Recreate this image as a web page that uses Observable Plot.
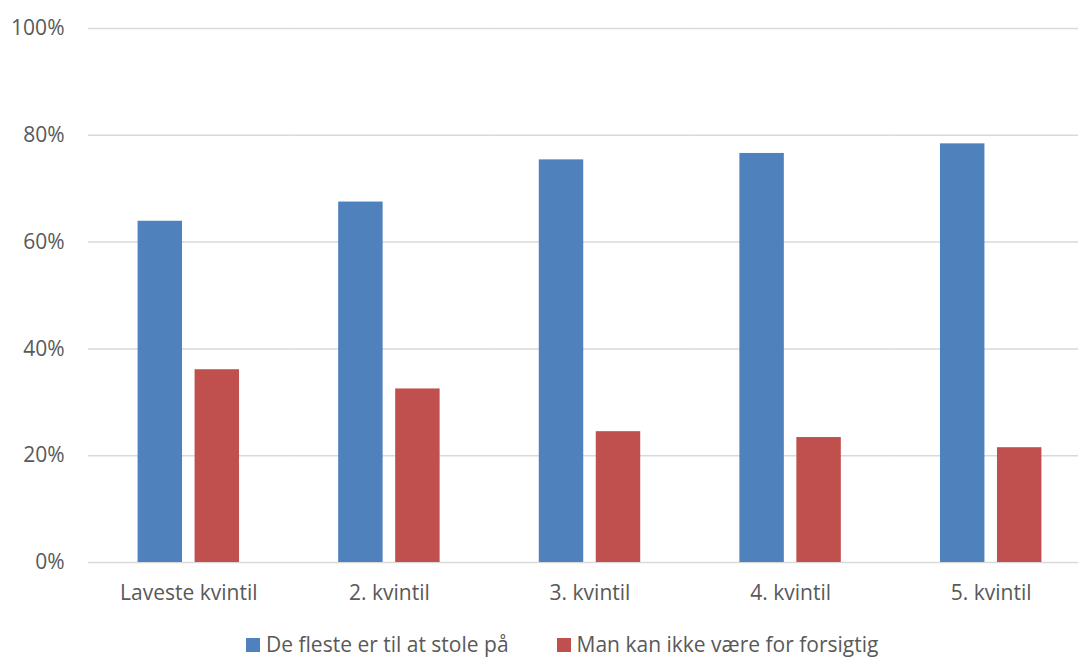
<!DOCTYPE html>
<html>
<head>
<meta charset="utf-8">
<script src="https://cdn.jsdelivr.net/npm/d3@7"></script>
<script src="https://cdn.jsdelivr.net/npm/@observablehq/plot@0.6"></script>
<style>
  html, body { margin: 0; padding: 0; background: #fff; overflow: hidden; }
  #wrap { position: relative; width: 1078px; height: 657px; font-family: "Open Sans", sans-serif; }
  #legend { position: absolute; top: 632px; left: 246px; display: flex; align-items: center; font-size: 21px; color: #595959; white-space: nowrap; line-height: 25px; }
  .item { display: flex; align-items: center; margin-right: 48px; }
  .sw { width: 14px; height: 14px; margin-right: 6px; }
  svg text { font-size: 21px; }
</style>
</head>
<body>
<div id="wrap"><div id="chart"></div><div id="legend"></div></div>
<script>
const categories = ["Laveste kvintil", "2. kvintil", "3. kvintil", "4. kvintil", "5. kvintil"];
const series = ["De fleste er til at stole på", "Man kan ikke være for forsigtig"];
const trustValues = [63.9, 67.5, 75.4, 76.6, 78.4];
const cautiousValues = [36.1, 32.5, 24.5, 23.4, 21.5];
const yTicks = [0, 20, 40, 60, 80, 100];
const colors = ["#4F81BD", "#C0504D"];

const data = [];
categories.forEach((c, i) => {
  data.push({category: c, series: series[0], value: trustValues[i]});
  data.push({category: c, series: series[1], value: cautiousValues[i]});
});

const chart = Plot.plot({
  width: 1078,
  height: 615,
  marginTop: 28,
  marginBottom: 53,
  marginLeft: 88,
  marginRight: 0,
  style: {fontFamily: "'Open Sans', sans-serif", fontSize: "21px", color: "#595959", background: "#fff"},
  fx: {domain: categories, range: [88, 1091], padding: 0, round: false, label: null, tickSize: 0, tickPadding: 23},
  x: {domain: series, paddingInner: 0.22, paddingOuter: 0.87, round: false, axis: null},
  y: {domain: [0, 100], ticks: yTicks, tickFormat: d => d + "%", tickSize: 0, tickPadding: 24, label: null},
  color: {domain: series, range: colors},
  marks: [
    Plot.ruleY(yTicks, {stroke: "#d9d9d9", strokeWidth: 1.5}),
    Plot.barY(data, {fx: "category", x: "series", y: "value", fill: "series"})
  ]
});
document.getElementById("chart").appendChild(chart);

const legend = document.getElementById("legend");
series.forEach((s, i) => {
  const item = document.createElement("div");
  item.className = "item";
  const sw = document.createElement("div");
  sw.className = "sw";
  sw.style.background = colors[i];
  const t = document.createElement("span");
  t.textContent = s;
  item.appendChild(sw);
  item.appendChild(t);
  legend.appendChild(item);
});
</script>
</body>
</html>
